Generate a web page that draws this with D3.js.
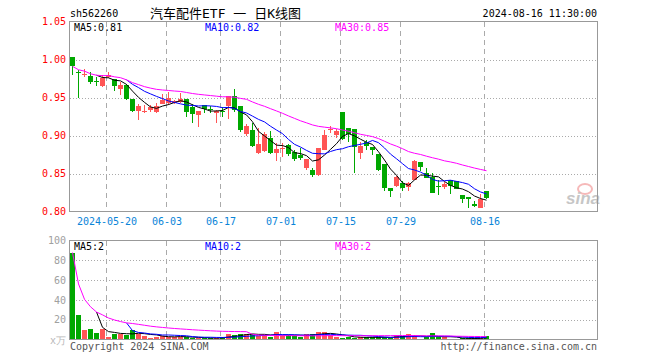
<!DOCTYPE html>
<html>
<head>
<meta charset="utf-8">
<script src="https://cdn.jsdelivr.net/npm/d3@7"></script>
<style>
body { margin: 0; background: #fff; }
svg { display: block; }
text { font-family: "DejaVu Sans Mono", monospace; font-size: 10px; }
</style>
</head>
<body>
<script>
// trading days shown (first day of listing -> 2024-08-16)
const dates = [
  "2024-05-10","2024-05-13","2024-05-14","2024-05-15","2024-05-16","2024-05-17",
  "2024-05-20","2024-05-21","2024-05-22","2024-05-23","2024-05-24",
  "2024-05-27","2024-05-28","2024-05-29","2024-05-30","2024-05-31",
  "2024-06-03","2024-06-04","2024-06-05","2024-06-06","2024-06-07",
  "2024-06-11","2024-06-12","2024-06-13","2024-06-14",
  "2024-06-17","2024-06-18","2024-06-19","2024-06-20","2024-06-21",
  "2024-06-24","2024-06-25","2024-06-26","2024-06-27","2024-06-28",
  "2024-07-01","2024-07-02","2024-07-03","2024-07-04","2024-07-05",
  "2024-07-08","2024-07-09","2024-07-10","2024-07-11","2024-07-12",
  "2024-07-15","2024-07-16","2024-07-17","2024-07-18","2024-07-19",
  "2024-07-22","2024-07-23","2024-07-24","2024-07-25","2024-07-26",
  "2024-07-29","2024-07-30","2024-07-31","2024-08-01","2024-08-02",
  "2024-08-05","2024-08-06","2024-08-07","2024-08-08","2024-08-09",
  "2024-08-12","2024-08-13","2024-08-14","2024-08-15","2024-08-16"
]

const open = [1.003,0.983,0.979,0.978,0.972,0.965,0.977,0.975,0.961,0.966,
  0.948,0.932,0.931,0.934,0.931,0.9415,0.943,0.943,0.944,0.948,
  0.938,0.927,0.940,0.935,0.930,0.932,0.939,0.952,0.9385,0.902,
  0.907,0.8765,0.8795,0.897,0.8775,0.8825,0.8875,0.8785,0.874,0.857,
  0.854,0.848,0.8815,0.907,0.9005,0.931,0.9105,0.909,0.8768,0.8917,
  0.885,0.8754,0.862,0.831,0.833,0.8374,0.8318,0.8416,0.8654,0.851,
  0.8456,0.8337,0.8316,0.8412,0.8403,0.8219,0.8193,0.8105,0.8048,0.827]
const high = [1.003,0.986,0.987,0.983,0.977,0.979,0.984,0.975,0.970,0.968,
  0.948,0.941,0.940,0.940,0.943,0.955,0.957,0.947,0.956,0.948,
  0.941,0.932,0.940,0.939,0.934,0.938,0.952,0.961,0.939,0.915,
  0.916,0.910,0.905,0.906,0.890,0.890,0.889,0.881,0.883,0.869,
  0.857,0.8835,0.9075,0.9125,0.909,0.931,0.9105,0.909,0.8917,0.894,
  0.885,0.8754,0.862,0.831,0.8466,0.8396,0.8383,0.868,0.8654,0.8566,
  0.851,0.8412,0.839,0.842,0.8403,0.8219,0.8193,0.814,0.8228,0.827]
const low = [0.980,0.950,0.977,0.968,0.965,0.964,0.976,0.959,0.953,0.947,
  0.931,0.920,0.930,0.931,0.930,0.941,0.940,0.941,0.943,0.925,
  0.917,0.911,0.930,0.930,0.916,0.925,0.922,0.931,0.905,0.900,
  0.885,0.876,0.878,0.876,0.867,0.872,0.873,0.867,0.868,0.855,
  0.846,0.847,0.8805,0.903,0.897,0.8945,0.892,0.851,0.869,0.881,
  0.874,0.8535,0.8275,0.819,0.832,0.8273,0.8266,0.8409,0.8527,0.8447,
  0.8237,0.8215,0.830,0.8228,0.829,0.8114,0.804,0.806,0.804,0.817]
const close = [0.991,0.982,0.981,0.971,0.9715,0.976,0.980,0.965,0.967,0.948,
  0.932,0.939,0.932,0.937,0.9385,0.947,0.949,0.946,0.948,0.931,
  0.928,0.932,0.9355,0.934,0.932,0.931,0.952,0.933,0.907,0.9125,
  0.886,0.889,0.9025,0.877,0.882,0.8835,0.8755,0.869,0.871,0.8685,
  0.848,0.8835,0.9005,0.908,0.906,0.896,0.902,0.8855,0.8862,0.886,
  0.881,0.8544,0.831,0.827,0.8448,0.8314,0.8377,0.8667,0.8589,0.8447,
  0.8246,0.8333,0.836,0.8333,0.8294,0.8158,0.8158,0.8075,0.817,0.8184]
// volume, unit 万
const volume = [87.8,24.5,9.5,10.5,6.5,10.5,2.8,5.5,5.5,5.0,
  9.5,6.0,3.5,1.5,2.8,3.5,2.8,2.8,2.8,2.2,
  1.5,1.5,1.5,1.2,1.2,2.8,5.5,4.5,6.0,6.0,
  6.0,3.5,4.5,2.8,7.5,3.5,4.5,3.5,2.8,6.0,
  6.0,7.2,7.2,4.5,2.8,1.8,2.5,1.8,2.5,2.2,
  2.2,2.2,2.2,1.5,4.5,3.8,5.5,3.5,0.8,2.2,
  6.5,2.2,2.2,0.8,0.8,1.2,1.2,1.2,1.2,3.5]

const priceTicks = [1.05, 1.00, 0.95, 0.90, 0.85, 0.80]
const volTicks = [100, 80, 60, 40, 20]
const tickDates = ["2024-05-20","2024-06-03","2024-06-17","2024-07-01","2024-07-15","2024-07-29","2024-08-16"]
const tickLabels = ["2024-05-20","06-03","06-17","07-01","07-15","07-29","08-16"]
const priceLegend = ["MA5:0.81", "MA10:0.82", "MA30:0.85"]
const volLegend = ["MA5:2", "MA10:2", "MA30:2"]

const RED = "#ff5555", GREEN = "#00a800"
const maColors = ["#000000", "#0000ff", "#ff00ff"]

const svg = d3.select("body").append("svg").attr("width", 660).attr("height", 360)

const x = d3.scalePoint().domain(dates).range([70.5, 70.5 + 6 * (dates.length - 1)])
const y = d3.scaleLinear().domain([0.80, 1.05]).range([211.5, 21.5])
const vy = d3.scaleLinear().domain([0, 100]).range([339.5, 240.5])

const bars = dates.map((d, i) => ({date: d, o: open[i], h: high[i], l: low[i], c: close[i], v: volume[i]}))

// moving averages; the 30 day line uses what is there while the fund is younger
function movingAvg(vals, n, partial) {
  return vals.map((v, i) => {
    if (i < n - 1 && !partial) return null
    let s = vals.slice(Math.max(0, i - n + 1), i + 1)
    return d3.mean(s)
  })
}

function frame(top, bottom) {
  svg.append("rect")
    .attr("x", 69.5).attr("y", top)
    .attr("width", 597.5 - 69.5).attr("height", bottom - top)
    .attr("fill", "none").attr("stroke", "#999")
}

function grid(top, bottom, hvals, scale) {
  let g = svg.append("g").attr("stroke", "#aaa").attr("shape-rendering", "crispEdges")
  g.selectAll(".h").data(hvals).enter().append("line")
    .attr("x1", 70).attr("x2", 597)
    .attr("y1", d => Math.round(scale(d)) + 0.5).attr("y2", d => Math.round(scale(d)) + 0.5)
    .attr("stroke-dasharray", "1,2")
  g.selectAll(".v").data(tickDates).enter().append("line")
    .attr("x1", d => x(d)).attr("x2", d => x(d))
    .attr("y1", top).attr("y2", bottom)
    .attr("stroke-dasharray", "5,4")
}

// ---------- price panel ----------
grid(22, 211, [1.00, 0.95, 0.90, 0.85], y)

let candles = svg.append("g").attr("shape-rendering", "crispEdges")
candles.selectAll("line").data(bars).enter().append("line")
  .attr("x1", d => x(d.date) + 2).attr("x2", d => x(d.date) + 2)
  .attr("y1", d => y(d.h)).attr("y2", d => y(d.l))
  .attr("stroke", d => d.c >= d.o ? RED : GREEN)
candles.selectAll("rect").data(bars).enter().append("rect")
  .attr("x", d => x(d.date) - 0.5)
  .attr("width", 5)
  .attr("y", d => y(Math.max(d.o, d.c)))
  .attr("height", d => Math.max(1, Math.abs(y(d.o) - y(d.c))))
  .attr("fill", d => d.c >= d.o ? RED : GREEN)

function maLines(vals, scale) {
  let sets = [movingAvg(vals, 5, false), movingAvg(vals, 10, false), movingAvg(vals, 30, true)]
  sets.forEach((s, k) => {
    let line = d3.line()
      .defined(d => d != null)
      .x((d, i) => x(dates[i]) + 2)
      .y(d => scale(d))
    svg.append("path").datum(s)
      .attr("d", line)
      .attr("fill", "none")
      .attr("stroke", maColors[k])
      .attr("stroke-width", 1)
  })
}
maLines(close, y)
frame(21.5, 211.5)

svg.append("g")
  .attr("transform", "translate(69,0)")
  .call(d3.axisLeft(y).tickValues(priceTicks).tickFormat(d3.format(".2f")).tickSize(0).tickPadding(3))
  .call(g => g.select(".domain").remove())
  .call(g => g.selectAll("text").attr("fill", "#ff0000").style("font-family", "DejaVu Sans Mono").style("font-size", "10px"))

svg.append("g")
  .attr("transform", "translate(0,211.5)")
  .call(d3.axisBottom(x).tickValues(tickDates).tickFormat((d, i) => tickLabels[i]).tickSize(0).tickPadding(6))
  .call(g => g.select(".domain").remove())
  .call(g => g.selectAll("text").attr("fill", "#0a84d8").style("font-family", "DejaVu Sans Mono").style("font-size", "10px"))

// ---------- volume panel ----------
grid(241, 339, [80, 60, 40, 20], vy)

svg.append("g").attr("shape-rendering", "crispEdges")
  .selectAll("rect").data(bars).enter().append("rect")
  .attr("x", d => x(d.date) - 0.5)
  .attr("width", 5)
  .attr("y", d => vy(d.v))
  .attr("height", d => vy(0) - vy(d.v))
  .attr("fill", d => d.c >= d.o ? RED : GREEN)

maLines(volume, vy)
frame(240.5, 339.5)

svg.append("g")
  .attr("transform", "translate(67,0)")
  .call(d3.axisLeft(vy).tickValues(volTicks).tickSize(0).tickPadding(1))
  .call(g => g.select(".domain").remove())
  .call(g => g.selectAll("text").attr("fill", "#a0a0a0").style("font-family", "DejaVu Sans Mono").style("font-size", "10px"))

svg.append("text").attr("x", 66).attr("y", 340).attr("dy", "0.35em")
  .attr("text-anchor", "end").attr("fill", "#b8b8b8").text("x万")

// ---------- legends and titles ----------
const legendX = [74, 205, 335]
svg.selectAll(".pleg").data(priceLegend).enter().append("text")
  .attr("x", (d, i) => legendX[i]).attr("y", 27).attr("dy", "0.35em")
  .attr("fill", (d, i) => maColors[i]).text(d => d)
svg.selectAll(".vleg").data(volLegend).enter().append("text")
  .attr("x", (d, i) => legendX[i]).attr("y", 246.5).attr("dy", "0.35em")
  .attr("fill", (d, i) => maColors[i]).text(d => d)

svg.append("text").attr("x", 70).attr("y", 13).attr("dy", "0.35em").text("sh562260")
svg.append("text").attr("x", 150).attr("y", 13).attr("dy", "0.35em")
  .attr("xml:space", "preserve")
  .style("white-space", "pre")
  .style("font-family", "'DejaVu Sans Mono', 'Noto Sans CJK SC', monospace").style("font-size", "13px")
  .text("汽车配件ETF 一 日K线图")
svg.append("text").attr("x", 597).attr("y", 13).attr("dy", "0.35em")
  .attr("text-anchor", "end").text("2024-08-16 11:30:00")

svg.append("text").attr("x", 70).attr("y", 346.5).attr("dy", "0.35em")
  .attr("fill", "#555").text("Copyright 2024 SINA.COM")
svg.append("text").attr("x", 597).attr("y", 346.5).attr("dy", "0.35em")
  .attr("text-anchor", "end").attr("fill", "#555").text("http://finance.sina.com.cn")

// sina watermark
let wm = svg.append("g").attr("opacity", 0.55)
wm.append("ellipse").attr("cx", 585).attr("cy", 189).attr("rx", 7).attr("ry", 5)
  .attr("fill", "none").attr("stroke", "#f08080").attr("stroke-width", 2)
wm.append("text").attr("x", 566).attr("y", 204)
  .style("font-family", "Liberation Sans").style("font-size", "17px")
  .style("font-weight", "bold").style("font-style", "italic")
  .attr("fill", "#999").text("sina")
</script>
</body>
</html>
